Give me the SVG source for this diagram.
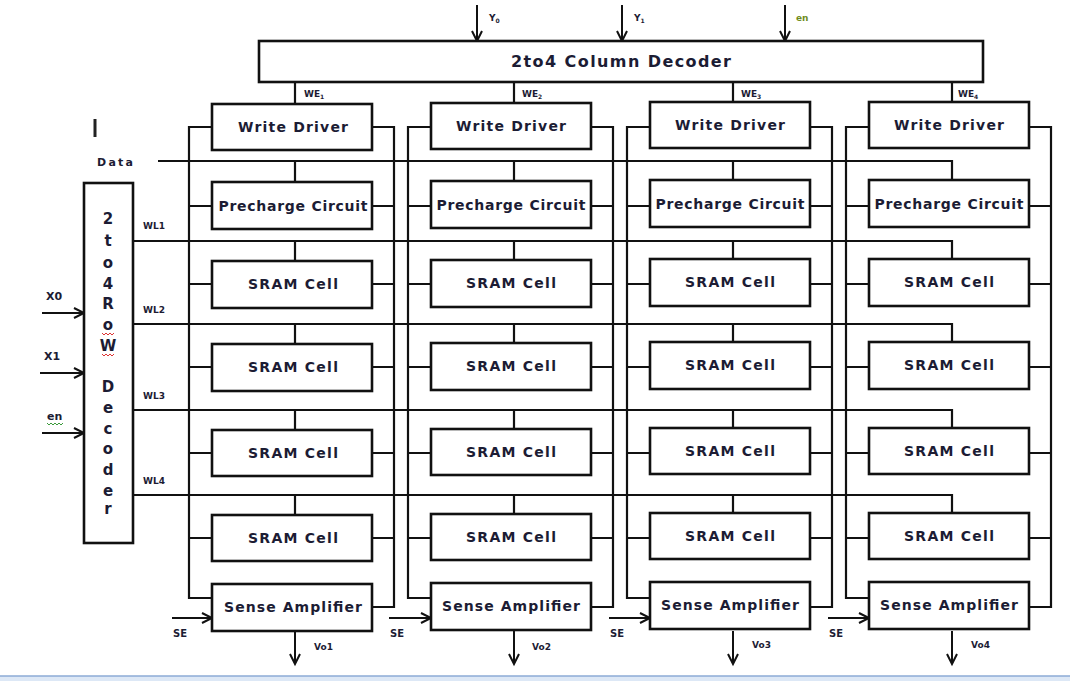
<svg xmlns="http://www.w3.org/2000/svg" width="1070" height="681" viewBox="0 0 1070 681">
<defs>
<marker id="ah" markerUnits="userSpaceOnUse" markerWidth="14" markerHeight="14" refX="11" refY="6" orient="auto">
<path d="M1,1 L11,6 L1,11" fill="none" stroke="#111" stroke-width="2"/>
</marker>
<style>
.box{fill:#fff;stroke:#111;stroke-width:2.6}
.w{fill:none;stroke:#111;stroke-width:2.2}
.arr{fill:none;stroke:#111;stroke-width:2;marker-end:url(#ah)}
.t{font-family:"DejaVu Sans",sans-serif;font-weight:bold;font-size:14px;fill:#1c1c34;text-anchor:middle}
.s{font-family:"DejaVu Sans",sans-serif;font-weight:bold;font-size:9px;fill:#1c1c34}
.d{font-family:"DejaVu Sans",sans-serif;font-weight:bold;font-size:15px;fill:#1c1c34;text-anchor:middle}
.sub{font-size:6px}
.sq{fill:none;stroke-width:1}
</style>
</defs>
<rect width="1070" height="681" fill="#fff"/>
<rect x="0" y="676" width="1070" height="5" fill="#dde8f6"/>
<line x1="0" y1="676" x2="1070" y2="676" stroke="#8cabd6" stroke-width="1.5"/>
<rect x="93.5" y="119" width="3" height="18" fill="#222"/>

<g id="connectors">
<line class="arr" x1="477" y1="5" x2="477" y2="41"/>
<line class="arr" x1="622" y1="5" x2="622" y2="41"/>
<line class="arr" x1="785" y1="5" x2="785" y2="41"/>
<path class="w" d="M295,82V104 M514,82V104 M733,82V104 M952,82V104"/>
<path class="w" d="M158,161H952V182 M295,161V182 M514,161V182 M733,161V182"/>
<path class="w" d="M133,241H952V261 M295,241V261 M514,241V261 M733,241V261"/>
<path class="w" d="M133,324H952V344 M295,324V344 M514,324V344 M733,324V344"/>
<path class="w" d="M133,410H952V430 M295,410V430 M514,410V430 M733,410V430"/>
<path class="w" d="M133,495H952V515 M295,495V515 M514,495V515 M733,495V515"/>
<path class="w" d="M212,127H189V598H212 M189,206H212 M189,284H212 M189,367H212 M189,453H212 M189,538H212"/>
<path class="w" d="M372,127H394V607H372 M372,206H394 M372,284H394 M372,367H394 M372,453H394 M372,538H394"/>
<path class="w" d="M431,127H408V598H431 M408,206H431 M408,284H431 M408,367H431 M408,453H431 M408,538H431"/>
<path class="w" d="M591,127H613V607H591 M591,206H613 M591,284H613 M591,367H613 M591,453H613 M591,538H613"/>
<path class="w" d="M650,127H627V598H650 M627,206H650 M627,284H650 M627,367H650 M627,453H650 M627,538H650"/>
<path class="w" d="M810,127H832V607H810 M810,206H832 M810,284H832 M810,367H832 M810,453H832 M810,538H832"/>
<path class="w" d="M869,127H846V598H869 M846,206H869 M846,284H869 M846,367H869 M846,453H869 M846,538H869"/>
<path class="w" d="M1029,127H1051V607H1029 M1029,206H1051 M1029,284H1051 M1029,367H1051 M1029,453H1051 M1029,538H1051"/>
<line class="arr" x1="42" y1="313" x2="84" y2="313"/>
<line class="arr" x1="40" y1="373" x2="84" y2="373"/>
<line class="arr" x1="42" y1="433" x2="84" y2="433"/>
<line class="arr" x1="172" y1="618" x2="212" y2="618"/>
<line class="arr" x1="389" y1="618" x2="431" y2="618"/>
<line class="arr" x1="609" y1="618" x2="650" y2="618"/>
<line class="arr" x1="828" y1="618" x2="869" y2="618"/>
<line class="arr" x1="295" y1="631" x2="295" y2="664"/>
<line class="arr" x1="514" y1="631" x2="514" y2="664"/>
<line class="arr" x1="733" y1="631" x2="733" y2="664"/>
<line class="arr" x1="952" y1="631" x2="952" y2="664"/>
</g>

<g id="labels">
<text class="s" x="489" y="21">Y<tspan class="sub" dy="2">0</tspan></text>
<text class="s" x="634" y="21">Y<tspan class="sub" dy="2">1</tspan></text>
<text class="s" x="796" y="21" style="fill:#6f8c22">en</text>
<text class="s" x="304" y="97">WE<tspan class="sub" dy="2">1</tspan></text>
<text class="s" x="522" y="97">WE<tspan class="sub" dy="2">2</tspan></text>
<text class="s" x="741" y="97">WE<tspan class="sub" dy="2">3</tspan></text>
<text class="s" x="958" y="97">WE<tspan class="sub" dy="2">4</tspan></text>
<text class="s" x="97" y="166" textLength="36" style="font-size:11px">Data</text>
<text class="s" x="143" y="229">WL1</text>
<text class="s" x="143" y="313">WL2</text>
<text class="s" x="143" y="399">WL3</text>
<text class="s" x="143" y="484">WL4</text>
<text class="s" x="46" y="300" style="font-size:11px">X0</text>
<text class="s" x="44" y="360" style="font-size:11px">X1</text>
<text class="s" x="47" y="420" style="font-size:11px">en</text>
<path class="sq" stroke="#3a9a3a" d="M47,423 l2,2 l2,-2 l2,2 l2,-2 l2,2 l2,-2 l2,2 l2,-2"/>
<text class="s" x="173" y="637" style="font-size:10px">SE</text>
<text class="s" x="390" y="637" style="font-size:10px">SE</text>
<text class="s" x="610" y="637" style="font-size:10px">SE</text>
<text class="s" x="829" y="637" style="font-size:10px">SE</text>
<text class="s" x="314" y="650">Vo1</text>
<text class="s" x="532" y="650">Vo2</text>
<text class="s" x="752" y="648">Vo3</text>
<text class="s" x="971" y="648">Vo4</text>
</g>

<g id="column-decoder">
<rect class="box" x="259" y="41" width="724" height="41"/>
<text class="t" x="621" y="67" textLength="220" style="font-size:16px">2to4 Column Decoder</text>
</g>

<g id="row-decoder">
<rect class="box" x="84" y="183" width="49" height="360"/>
<text class="d" x="108" y="224">2</text>
<text class="d" x="108" y="246">t</text>
<text class="d" x="108" y="268">o</text>
<text class="d" x="108" y="289">4</text>
<text class="d" x="108" y="309">R</text>
<text class="d" x="108" y="330">o</text>
<text class="d" x="108" y="351">W</text>
<text class="d" x="108" y="392">D</text>
<text class="d" x="108" y="413">e</text>
<text class="d" x="108" y="434">c</text>
<text class="d" x="108" y="454">o</text>
<text class="d" x="108" y="475">d</text>
<text class="d" x="108" y="496">e</text>
<text class="d" x="108" y="514">r</text>
<path class="sq" stroke="#d33" d="M102,333 l2,2 l2,-2 l2,2 l2,-2 l2,2 l2,-2 M102,354 l2,2 l2,-2 l2,2 l2,-2 l2,2 l2,-2"/>
</g>

<g id="col1">
<g id="wd1"><rect class="box" x="212" y="104" width="160" height="46"/><text class="t" x="293" y="132" textLength="110">Write Driver</text></g>
<g id="pc1"><rect class="box" x="212" y="182" width="160" height="47"/><text class="t" x="293" y="211" textLength="149">Precharge Circuit</text></g>
<g id="c11"><rect class="box" x="212" y="261" width="160" height="47"/><text class="t" x="293" y="289" textLength="90">SRAM Cell</text></g>
<g id="c21"><rect class="box" x="212" y="344" width="160" height="47"/><text class="t" x="293" y="372" textLength="90">SRAM Cell</text></g>
<g id="c31"><rect class="box" x="212" y="430" width="160" height="46"/><text class="t" x="293" y="458" textLength="90">SRAM Cell</text></g>
<g id="c41"><rect class="box" x="212" y="515" width="160" height="46"/><text class="t" x="293" y="543" textLength="90">SRAM Cell</text></g>
<g id="sa1"><rect class="box" x="212" y="584" width="160" height="47"/><text class="t" x="293" y="612" textLength="138">Sense Amplifier</text></g>
</g>

<g id="col2">
<g id="wd2"><rect class="box" x="431" y="103" width="160" height="46"/><text class="t" x="511" y="131" textLength="110">Write Driver</text></g>
<g id="pc2"><rect class="box" x="431" y="181" width="160" height="47"/><text class="t" x="511" y="210" textLength="149">Precharge Circuit</text></g>
<g id="c12"><rect class="box" x="431" y="260" width="160" height="47"/><text class="t" x="511" y="288" textLength="90">SRAM Cell</text></g>
<g id="c22"><rect class="box" x="431" y="343" width="160" height="47"/><text class="t" x="511" y="371" textLength="90">SRAM Cell</text></g>
<g id="c32"><rect class="box" x="431" y="429" width="160" height="46"/><text class="t" x="511" y="457" textLength="90">SRAM Cell</text></g>
<g id="c42"><rect class="box" x="431" y="514" width="160" height="46"/><text class="t" x="511" y="542" textLength="90">SRAM Cell</text></g>
<g id="sa2"><rect class="box" x="431" y="583" width="160" height="47"/><text class="t" x="511" y="611" textLength="138">Sense Amplifier</text></g>
</g>

<g id="col3">
<g id="wd3"><rect class="box" x="650" y="102" width="160" height="46"/><text class="t" x="730" y="130" textLength="110">Write Driver</text></g>
<g id="pc3"><rect class="box" x="650" y="180" width="160" height="47"/><text class="t" x="730" y="209" textLength="149">Precharge Circuit</text></g>
<g id="c13"><rect class="box" x="650" y="259" width="160" height="47"/><text class="t" x="730" y="287" textLength="90">SRAM Cell</text></g>
<g id="c23"><rect class="box" x="650" y="342" width="160" height="47"/><text class="t" x="730" y="370" textLength="90">SRAM Cell</text></g>
<g id="c33"><rect class="box" x="650" y="428" width="160" height="46"/><text class="t" x="730" y="456" textLength="90">SRAM Cell</text></g>
<g id="c43"><rect class="box" x="650" y="513" width="160" height="46"/><text class="t" x="730" y="541" textLength="90">SRAM Cell</text></g>
<g id="sa3"><rect class="box" x="650" y="582" width="160" height="47"/><text class="t" x="730" y="610" textLength="138">Sense Amplifier</text></g>
</g>

<g id="col4">
<g id="wd4"><rect class="box" x="869" y="102" width="160" height="46"/><text class="t" x="949" y="130" textLength="110">Write Driver</text></g>
<g id="pc4"><rect class="box" x="869" y="180" width="160" height="47"/><text class="t" x="949" y="209" textLength="149">Precharge Circuit</text></g>
<g id="c14"><rect class="box" x="869" y="259" width="160" height="47"/><text class="t" x="949" y="287" textLength="90">SRAM Cell</text></g>
<g id="c24"><rect class="box" x="869" y="342" width="160" height="47"/><text class="t" x="949" y="370" textLength="90">SRAM Cell</text></g>
<g id="c34"><rect class="box" x="869" y="428" width="160" height="46"/><text class="t" x="949" y="456" textLength="90">SRAM Cell</text></g>
<g id="c44"><rect class="box" x="869" y="513" width="160" height="46"/><text class="t" x="949" y="541" textLength="90">SRAM Cell</text></g>
<g id="sa4"><rect class="box" x="869" y="582" width="160" height="47"/><text class="t" x="949" y="610" textLength="138">Sense Amplifier</text></g>
</g>
</svg>
